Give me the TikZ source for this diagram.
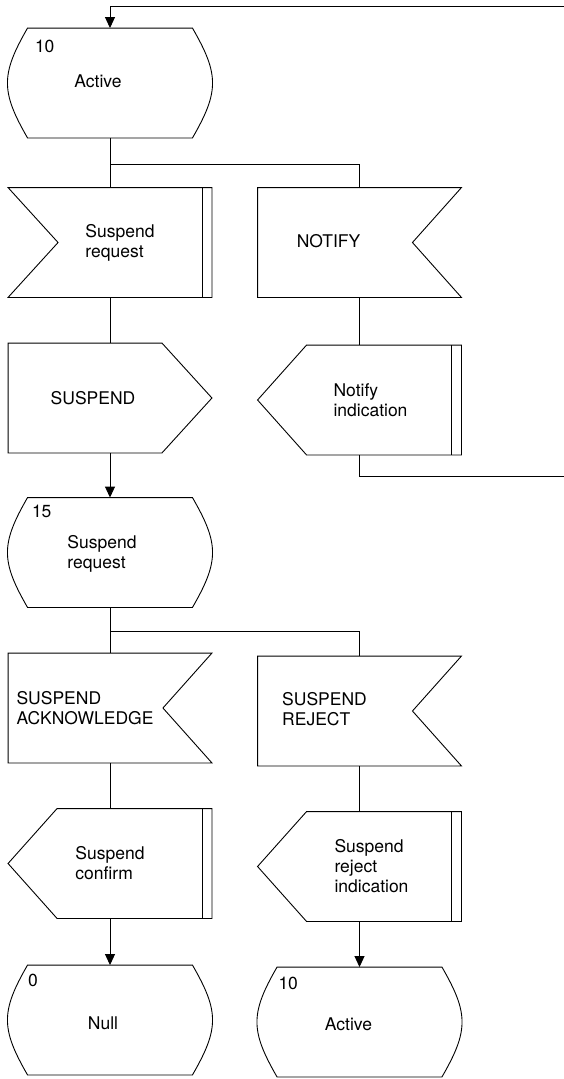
\documentclass[tikz,border=0pt]{standalone}
\usepackage{fontspec}
\setmainfont{TeX Gyre Heros}
\usetikzlibrary{arrows.meta}
\tikzset{>={Triangle[width=10pt,length=11pt]},every node/.style={font=\fontsize{17.5}{20}\selectfont},
  flow/.style={->},
  box/.style={inner sep=0pt,minimum width=203pt,minimum height=109pt},
  outline/.style={line join=miter},
  state/.style={box,minimum width=204pt,append after command={\pgfextra{\pgfinterruptpath
    \draw[outline] ([xshift=20pt]\tikzlastnode.north west) -- ([xshift=-20pt]\tikzlastnode.north east)
      to[out=-60,in=60,looseness=1.25] ([xshift=-20pt]\tikzlastnode.south east) -- ([xshift=20pt]\tikzlastnode.south west)
      to[out=120,in=240,looseness=1.25] cycle;\endpgfinterruptpath}}},
  inputl/.style={box,append after command={\pgfextra{\pgfinterruptpath
    \draw[outline] (\tikzlastnode.north west) -- (\tikzlastnode.north east) -- (\tikzlastnode.south east)
      -- (\tikzlastnode.south west) -- ([xshift=50pt]\tikzlastnode.west) -- cycle;\endpgfinterruptpath}}},
  inputr/.style={box,append after command={\pgfextra{\pgfinterruptpath
    \draw[outline] (\tikzlastnode.north west) -- (\tikzlastnode.north east) -- ([xshift=-49pt]\tikzlastnode.east)
      -- (\tikzlastnode.south east) -- (\tikzlastnode.south west) -- cycle;\endpgfinterruptpath}}},
  outputr/.style={box,append after command={\pgfextra{\pgfinterruptpath
    \draw[outline] (\tikzlastnode.north west) -- ([xshift=-50pt]\tikzlastnode.north east) -- (\tikzlastnode.east)
      -- ([xshift=-50pt]\tikzlastnode.south east) -- (\tikzlastnode.south west) -- cycle;\endpgfinterruptpath}}},
  outputl/.style={box,append after command={\pgfextra{\pgfinterruptpath
    \draw[outline] ([xshift=49pt]\tikzlastnode.north west) -- (\tikzlastnode.north east) -- (\tikzlastnode.south east)
      -- ([xshift=49pt]\tikzlastnode.south west) -- (\tikzlastnode.west) -- cycle;\endpgfinterruptpath}}},
  dbar/.style={append after command={\pgfextra{\pgfinterruptpath
    \draw ([xshift=-10pt]\tikzlastnode.north east) -- ([xshift=-10pt]\tikzlastnode.south east);\endpgfinterruptpath}}},
  txt/.style={inner sep=0pt,align=left},
  num/.style={inner sep=0pt,anchor=west}}
\begin{document}
\begin{tikzpicture}[x=1pt,y=-1pt,line width=.9pt]
\useasboundingbox (0,0) rectangle (564,1079);
% left column 110, right column 359.5
\node[state] (s1) at (110,83) {};
\node[inputl,dbar] (sr) at (110,242.5) {};
\node[inputr] (nt) at (359.5,242.5) {};
\node[outputr] (su) at (110,398) {};
\node[outputl,dbar] (ni) at (359.5,400) {};
\node[state] (s15) at (110,552.5) {};
\node[inputr] (sa) at (110,708) {};
\node[inputr] (rj) at (359.5,711) {};
\node[outputl,dbar] (sc) at (110,863.5) {};
\node[outputl,dbar] (ri) at (359.5,866.5) {};
\node[state] (null) at (110,1020) {};
\node[state] (act) at (359.5,1022) {};
% texts
\node[num] (s1n) at ([shift={(27,18)}]s1.north west) {10};
\node[txt] (s1t) at ([shift={(-12,-2)}]s1.center) {Active};
\node[txt] (srt) at ([shift={(10,0)}]sr.center) {Suspend\\request};
\node[txt] (ntt) at ([shift={(-31,-1)}]nt.center) {NOTIFY};
\node[txt] (sut) at ([shift={(-17,0)}]su.center) {SUSPEND};
\node[txt] (nit) at ([shift={(11,0)}]ni.center) {Notify\\indication};
\node[num] (s15n) at ([shift={(24,14)}]s15.north west) {15};
\node[txt] (s15t) at ([shift={(-8,1)}]s15.center) {Suspend\\request};
\node[txt] (sat) at ([shift={(-25,0)}]sa.center) {SUSPEND\\ACKNOWLEDGE};
\node[txt] (rjt) at ([shift={(-35,-2)}]rj.center) {SUSPEND\\REJECT};
\node[txt] (sct) at (sc.center) {Suspend\\confirm};
\node[txt] (rit) at ([shift={(12,0)}]ri.center) {Suspend\\reject\\indication};
\node[num] (nulln) at ([shift={(20,15)}]null.north west) {0};
\node[txt] (nullt) at ([shift={(-7,3)}]null.center) {Null};
\node[num] (actn) at ([shift={(21,16)}]act.north west) {10};
\node[txt] (actt) at ([shift={(-11,2)}]act.center) {Active};
% connectors
\coordinate (loopin) at (564,6);
\coordinate (loopout) at (564,476);
\draw[flow] (loopin) -| (s1.north);
\draw (s1.south) -- (sr.north);
\draw (s1.south) ++(0,26) -| (nt.north);
\draw (sr.south) -- (su.north);
\draw (nt.south) -- (ni.north);
\draw[flow] (su.south) -- (s15.north);
\draw (ni.south) |- (loopout);
\draw (s15.south) -- (sa.north);
\draw (s15.south) ++(0,24) -| (rj.north);
\draw (sa.south) -- (sc.north);
\draw (rj.south) -- (ri.north);
\draw[flow] (sc.south) -- (null.north);
\draw[flow] (ri.south) -- (act.north);
\end{tikzpicture}
\end{document}
